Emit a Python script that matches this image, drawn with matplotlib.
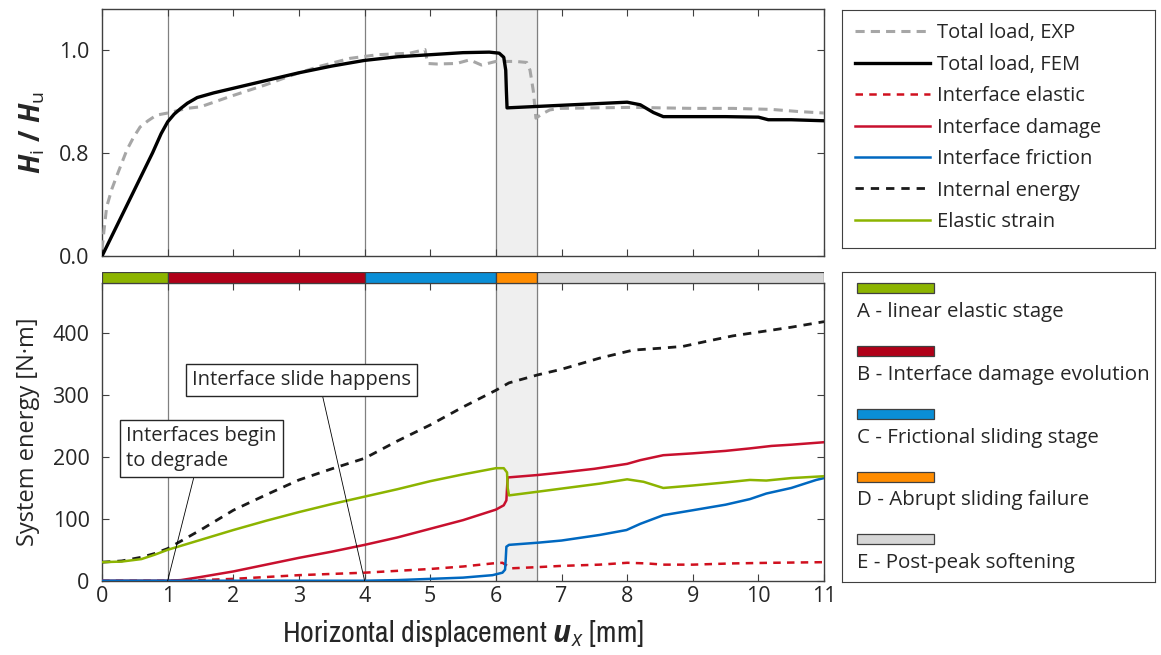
import matplotlib
matplotlib.use("Agg")
import matplotlib.pyplot as plt
import numpy as np
from matplotlib import font_manager
from matplotlib.patches import Rectangle

# ---------------- data ----------------
# normalised total load, FEM
fem_x = [0, 0.77, 0.9, 1.0, 1.1, 1.2, 1.3, 1.45, 1.7, 2.0, 2.5, 3.0, 3.5, 4.0, 4.5,
         5.0, 5.5, 5.9, 6.05, 6.12, 6.15, 6.16, 6.17, 6.5, 7.0, 7.5, 8.0, 8.2, 8.4,
         8.55, 9.0, 9.5, 10.0, 10.15, 10.5, 11.0]
fem_y = [0, 0.80, 0.837, 0.86, 0.875, 0.886, 0.896, 0.907, 0.916, 0.925, 0.940, 0.955,
         0.968, 0.979, 0.986, 0.990, 0.994, 0.995, 0.993, 0.985, 0.96, 0.92, 0.887,
         0.889, 0.892, 0.895, 0.898, 0.893, 0.878, 0.870, 0.870, 0.870, 0.869, 0.864,
         0.864, 0.862]

# normalised total load, experiment
exp_x = [0, 0.03, 0.07, 0.15, 0.22, 0.3, 0.38, 0.48, 0.58, 0.7, 0.83, 1.0, 1.29, 1.5,
         1.95, 2.5, 2.91, 3.3, 3.78, 4.2, 4.69, 4.92, 4.96, 5.1, 5.4, 5.6, 5.78, 6.0,
         6.3, 6.47, 6.52, 6.57, 6.61, 6.7, 6.82, 6.98, 7.5, 8.09, 8.5, 9.0, 9.61, 10.2,
         10.6, 11.0]
exp_y = [0.05, 0.2, 0.38, 0.52, 0.615, 0.72, 0.806, 0.83, 0.85, 0.862, 0.873, 0.877,
         0.886, 0.889, 0.909, 0.932, 0.951, 0.967, 0.983, 0.99, 0.993, 1.0, 0.973,
         0.972, 0.973, 0.98, 0.970, 0.977, 0.977, 0.975, 0.96, 0.92, 0.867, 0.875,
         0.883, 0.886, 0.887, 0.888, 0.887, 0.886, 0.886, 0.884, 0.88, 0.877]

# system energy components [N·m]
internal_x = [0, 0.3, 0.6, 0.8, 1.0, 1.5, 2.0, 2.5, 3.0, 3.5, 4.0, 4.5, 5.0, 5.5, 6.0,
              6.2, 6.64, 7.0, 7.58, 8.09, 8.5, 8.85, 9.2, 9.61, 10.12, 10.5, 11.0]
internal_y = [30, 32, 38, 44, 52, 82, 114, 139, 163, 181, 198, 226, 252, 281, 308,
              320, 333, 342, 360, 373, 376, 379, 387, 396, 404, 410, 419]

strain_x = [0, 0.3, 0.6, 0.8, 1.0, 1.5, 2.0, 2.5, 3.0, 3.5, 4.0, 4.5, 5.0, 5.5, 6.0,
            6.12, 6.17, 6.18, 6.2, 6.64, 7.0, 7.58, 8.0, 8.25, 8.55, 9.0, 9.5, 9.87,
            10.12, 10.5, 11.0]
strain_y = [30, 31, 35, 42, 50, 66, 82, 97, 111, 124, 136, 148, 161, 172, 182,
            182, 175, 150, 138, 144, 149, 157, 164, 160, 150, 154, 159, 163,
            162, 166, 169]

damage_x = [0, 1.0, 1.2, 1.5, 2.0, 2.5, 3.0, 3.5, 4.0, 4.5, 5.0, 5.5, 6.0, 6.12, 6.16,
            6.17, 6.18, 6.64, 7.0, 7.5, 8.0, 8.2, 8.55, 9.0, 9.5, 9.87, 10.2, 10.5, 11.0]
damage_y = [0, 0, 1, 6, 15, 26, 37, 47, 58, 70, 84, 98, 115, 122, 130,
            150, 167, 171, 175, 181, 189, 195, 203, 206, 210, 214, 218, 220, 224]

friction_x = [0, 4.0, 4.5, 5.0, 5.5, 5.95, 6.1, 6.14, 6.15, 6.16, 6.2, 6.64, 7.0, 7.58,
              7.99, 8.2, 8.55, 9.0, 9.5, 9.87, 10.12, 10.5, 10.88, 11.0]
friction_y = [0, 0, 1, 3, 5, 9, 13, 18, 35, 55, 58, 61.5, 65, 74,
              82, 92, 106, 114, 123, 132, 141, 150, 163, 166]

ielastic_x = [0, 1.0, 1.5, 2.0, 2.5, 3.0, 3.5, 4.0, 4.5, 5.0, 5.5, 5.95, 6.1, 6.16,
              6.22, 6.64, 7.0, 7.58, 8.0, 8.3, 8.55, 9.0, 9.61, 10.2, 11.0]
ielastic_y = [0, 0, 1, 3, 6, 9, 11, 13, 16, 19, 23, 28, 29, 25,
              20, 22, 24, 26, 29, 28, 26, 26, 28, 29, 30]

# loading stages
stage_edges = [0, 1, 4, 6, 6.63, 11]
stage_labels = ["A - linear elastic stage", "B - Interface damage evolution",
                "C - Frictional sliding stage", "D - Abrupt sliding failure",
                "E - Post-peak softening"]
stage_colors = ["#8cb400", "#b00018", "#0a8ed6", "#ff8c00", "#d6d6d6"]

x_ticks = list(range(0, 12))
load_ticks = [0.0, 0.8, 1.0]
energy_ticks = [0, 100, 200, 300, 400]

# ---------------- style ----------------
# look for a narrow face for the x axis title
narrow_family, narrow_stretch = None, "normal"
for f in font_manager.fontManager.ttflist:
    if f.style != "normal" or f.weight not in (400, "normal", "regular"):
        continue
    if "Narrow" in f.name or "Condensed" in f.name:
        narrow_family, narrow_stretch = f.name, "normal"
        break
if narrow_family is None:
    for f in font_manager.fontManager.ttflist:
        if f.style != "normal" or f.weight not in (400, "normal", "regular"):
            continue
        if f.stretch in ("condensed", "semi-condensed") and f.name in (
                "Liberation Sans", "Open Sans", "Roboto", "Noto Sans", "DejaVu Sans"):
            narrow_family, narrow_stretch = f.name, f.stretch
            break
if narrow_family is None:
    xlabel_font = dict(family="Open Sans", fontsize=18)
else:
    xlabel_font = dict(family=narrow_family, fontstretch=narrow_stretch, fontsize=21.5)

text_col = "#262626"
plt.rcParams["font.family"] = ["Open Sans", "DejaVu Sans"]
plt.rcParams["mathtext.fontset"] = "custom"
plt.rcParams["mathtext.rm"] = "Open Sans"
plt.rcParams["mathtext.it"] = "Open Sans:italic"
plt.rcParams["mathtext.bf"] = "Open Sans:bold:italic"
plt.rcParams["text.color"] = text_col
plt.rcParams["axes.labelcolor"] = text_col
plt.rcParams["xtick.color"] = "#404040"
plt.rcParams["ytick.color"] = "#404040"
plt.rcParams["xtick.labelcolor"] = text_col
plt.rcParams["ytick.labelcolor"] = text_col
plt.rcParams["axes.edgecolor"] = "#404040"


def fwd(y):
    y = np.asarray(y, dtype=float)
    return np.where(y <= 0.8, y / 0.8, 1 + (y - 0.8) / 0.2)


def inv(m):
    m = np.asarray(m, dtype=float)
    return np.where(m <= 1, 0.8 * m, 0.8 + 0.2 * (m - 1))


fig = plt.figure(figsize=(11.61, 6.55), dpi=100)
L, W = 0.0879, 0.6219
ax_top = fig.add_axes([L, 0.6092, W, 0.3766])
ax_bot = fig.add_axes([L, 0.1134, W, 0.4550], sharex=ax_top)
ax_stage = fig.add_axes([L, 0.5684, W, 0.0168], sharex=ax_top)

for ax in (ax_top, ax_bot):
    ax.axvspan(stage_edges[3], stage_edges[4], color="#efefef", zorder=0)
    for xv in stage_edges[1:-1]:
        ax.axvline(xv, color="#808080", lw=0.9, zorder=1)
    ax.tick_params(direction="in", top=True, right=True, length=5, width=0.8,
                   labelsize=15.5)
    ax.tick_params(axis="y", pad=9)
    for s in ax.spines.values():
        s.set_linewidth(1.0)

# upper panel: normalised load with a split vertical scale
ax_top.set_yscale("function", functions=(fwd, inv))
l_exp, = ax_top.plot(exp_x, exp_y, color="#a6a6a6", lw=2.2, ls=(0, (3, 2)),
                     label="Total load, EXP", zorder=3)
l_fem, = ax_top.plot(fem_x, fem_y, color="black", lw=2.4,
                     label="Total load, FEM", zorder=4)
ax_top.set_ylim(0, 1.078)
ax_top.set_yticks(load_ticks)
ax_top.set_yticklabels([f"{t:.1f}" for t in load_ticks])
ax_top.set_ylabel(r"$\mathbf{H}_\mathrm{i}$ / $\mathbf{H}_\mathrm{u}$",
                  fontsize=20, fontweight="bold", labelpad=8)
ax_top.tick_params(labelbottom=False)

# lower panel: energy components
l_iel, = ax_bot.plot(ielastic_x, ielastic_y, color="#d0101e", lw=1.8,
                     ls=(0, (3, 2.5)), label="Interface elastic", zorder=3)
l_dam, = ax_bot.plot(damage_x, damage_y, color="#c8102e", lw=1.8,
                     label="Interface damage", zorder=3)
l_fri, = ax_bot.plot(friction_x, friction_y, color="#0068c0", lw=1.8,
                     label="Interface friction", zorder=3)
l_int, = ax_bot.plot(internal_x, internal_y, color="#1a1a1a", lw=2.0,
                     ls=(0, (3, 2.5)), label="Internal energy", zorder=3)
l_str, = ax_bot.plot(strain_x, strain_y, color="#8cb400", lw=1.8,
                     label="Elastic strain", zorder=3)
ax_bot.set_xlim(0, 11)
ax_bot.set_ylim(0, 482)
ax_bot.set_xticks(x_ticks)
ax_bot.set_yticks(energy_ticks)
ax_bot.set_xlabel(r"Horizontal displacement $\mathbf{u}_\mathit{x}$ [mm]",
                  labelpad=8, **xlabel_font)
ax_bot.set_ylabel("System energy [N·m]", fontsize=17, labelpad=9)

# stage strip above the energy panel
for i in range(len(stage_labels)):
    ax_stage.barh(0, stage_edges[i + 1] - stage_edges[i], left=stage_edges[i],
                  height=1, color=stage_colors[i], edgecolor="#404040", lw=0.9)
ax_stage.set_ylim(-0.5, 0.5)
ax_stage.axis("off")

# callouts
box = dict(boxstyle="square,pad=0.3", fc="white", ec=text_col, lw=1.0)
ax_bot.annotate("Interfaces begin\nto degrade", xy=(1, 0), xytext=(0.37, 250),
                ha="left", va="top", fontsize=14.5, linespacing=1.3, bbox=box,
                arrowprops=dict(arrowstyle="-", color="black", lw=0.6,
                                relpos=(0.46, 0), shrinkA=0, shrinkB=0),
                zorder=6)
ax_bot.annotate("Interface slide happens", xy=(4, 0), xytext=(1.37, 341),
                ha="left", va="top", fontsize=14.5, bbox=box,
                arrowprops=dict(arrowstyle="-", color="black", lw=0.6,
                                relpos=(0.59, 0), shrinkA=0, shrinkB=0),
                zorder=6)

# legend for the curves
ax_leg1 = fig.add_axes([0.7252, 0.6214, 0.2696, 0.3633])
ax_leg1.set_xticks([])
ax_leg1.set_yticks([])
ax_leg1.legend(handles=[l_exp, l_fem, l_iel, l_dam, l_fri, l_int, l_str],
               loc="upper left", frameon=False, fontsize=14.5, handlelength=3.7,
               handletextpad=0.35, labelspacing=0.57, borderaxespad=0.15,
               borderpad=0.5)

# legend for the stages
ax_leg2 = fig.add_axes([0.7252, 0.1115, 0.2696, 0.4732])
ax_leg2.set_xticks([])
ax_leg2.set_yticks([])
ax_leg2.set_xlim(0, 1)
ax_leg2.set_ylim(0, 1)
for i, (lab, col) in enumerate(zip(stage_labels, stage_colors)):
    y0 = 0.931 - i * 0.2023
    ax_leg2.add_patch(Rectangle((0.047, y0), 0.248, 0.032, fc=col,
                                ec="#404040", lw=0.9))
    ax_leg2.text(0.047, y0 - 0.061, lab, fontsize=14.75, ha="left", va="center")

fig.savefig("out.png", dpi=100)
